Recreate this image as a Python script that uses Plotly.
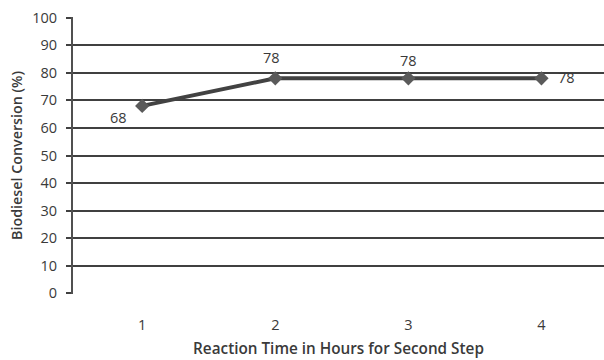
import plotly.graph_objects as go

# Biodiesel conversion vs. reaction time of the second step
hours = [1, 2, 3, 4]
conversion = [68, 78, 78, 78]
# pixel offsets of each value label relative to its point
label_dx = [-24, -4, 0, 25]
label_dy = [-12, 21, 18, 1]
y_ticks = [0, 10, 20, 30, 40, 50, 60, 70, 80, 90, 100]

font_family = "'Open Sans', Lato, sans-serif"
ink = "#3a3a3a"

fig = go.Figure()
fig.add_trace(go.Scatter(
    x=hours,
    y=conversion,
    mode="lines+markers",
    line=dict(color="#424242", width=4),
    marker=dict(symbol="diamond", size=11, color="#5a5a5a"),
    cliponaxis=False,
    showlegend=False,
))

for h, v, dx, dy in zip(hours, conversion, label_dx, label_dy):
    fig.add_annotation(
        x=h, y=v, text=str(v), showarrow=False,
        xshift=dx, yshift=dy,
        font=dict(family=font_family, size=14.5, color=ink),
    )

fig.update_layout(
    width=604,
    height=360,
    margin=dict(l=73, r=0, t=17, b=66),
    paper_bgcolor="white",
    plot_bgcolor="white",
    font=dict(family=font_family, size=14.5, color=ink),
    xaxis=dict(
        range=[0.48, 4.47],
        tickvals=hours,
        ticktext=[str(h) for h in hours],
        showgrid=False,
        showline=False,
        zeroline=False,
        ticks="",
        ticklabelstandoff=20,
        title=dict(text="Reaction Time in Hours for Second Step",
                   font=dict(family=font_family, size=15.3, color=ink, weight=600),
                   standoff=10),
    ),
    yaxis=dict(
        range=[-0.25, 100.25],
        tickvals=y_ticks,
        showgrid=True,
        gridcolor="#404040",
        gridwidth=1.6,
        showline=True,
        linecolor="#505050",
        linewidth=2,
        zeroline=False,
        ticks="outside",
        ticklen=5,
        tickcolor="#404040",
        tickwidth=1.6,
        ticklabelstandoff=6,
        title=dict(text="Biodiesel Conversion (%)",
                   font=dict(family=font_family, size=14.3, color=ink, weight=600),
                   standoff=6),
    ),
)

fig.write_html("out.html")
